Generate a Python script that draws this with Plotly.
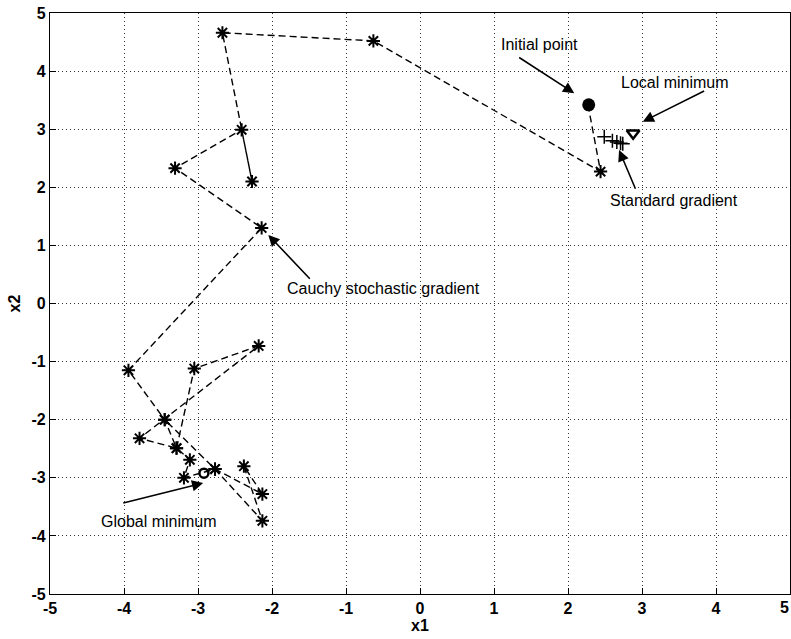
import plotly.graph_objects as go

# Cauchy stochastic gradient path (starts at initial point)
cauchy_x = [2.27, 2.44, -0.63, -2.67, -2.27, -2.41, -3.31, -2.14, -3.94, -3.45, -3.29, -3.05,
            -2.18, -3.79, -3.29, -3.11, -3.19, -2.77, -2.13, -2.38, -2.13, -2.77, -3.45]
cauchy_y = [3.42, 2.27, 4.52, 4.66, 2.10, 2.99, 2.33, 1.30, -1.15, -2.00, -2.49, -1.12,
            -0.73, -2.32, -2.49, -2.69, -3.00, -2.85, -3.28, -2.80, -3.74, -2.85, -2.00]

# Standard gradient iterates
std_x = [2.49, 2.60, 2.66, 2.71, 2.74]
std_y = [2.87, 2.80, 2.78, 2.76, 2.75]

init_pt = (2.28, 3.42)
local_min = (2.88, 2.93)
global_min = (-2.92, -2.92)

# annotations: text, text pos, arrow tail, arrow head
ann_text = ["Initial point", "Local minimum", "Standard gradient",
            "Cauchy stochastic gradient", "Global minimum"]
ann_pos = [(1.61, 4.45), (3.45, 3.80), (3.43, 1.78), (-0.49, 0.25), (-3.53, -3.76)]
ann_tail = [(1.32, 4.25), (3.86, 3.67), (2.92, 1.95), (-1.47, 0.40), (-4.03, -3.44)]
ann_head = [(2.085, 3.62), (3.01, 3.13), (2.69, 2.64), (-2.05, 1.18), (-2.93, -3.09)]

ticks = [-5, -4, -3, -2, -1, 0, 1, 2, 3, 4, 5]
FONT = "Liberation Sans, Arial"

fig = go.Figure()
fig.add_trace(go.Scatter(x=cauchy_x, y=cauchy_y, mode="lines",
                         line=dict(color="black", width=1.4, dash="7px,4px"),
                         hoverinfo="skip", showlegend=False))
fig.add_trace(go.Scatter(x=cauchy_x[1:], y=cauchy_y[1:], mode="markers",
                         marker=dict(symbol="asterisk-open", size=11, color="black",
                                     line=dict(color="black", width=2)),
                         showlegend=False))
fig.add_trace(go.Scatter(x=std_x, y=std_y, mode="markers",
                         marker=dict(symbol="cross-thin-open", size=10, color="black",
                                     line=dict(color="black", width=1.5)),
                         showlegend=False))
fig.add_trace(go.Scatter(x=[init_pt[0]], y=[init_pt[1]], mode="markers",
                         marker=dict(symbol="circle", size=13, color="black"),
                         showlegend=False))
fig.add_trace(go.Scatter(x=[local_min[0]], y=[local_min[1]], mode="markers",
                         marker=dict(symbol="triangle-down-open", size=11, color="black",
                                     line=dict(color="black", width=2.5)),
                         showlegend=False))
fig.add_trace(go.Scatter(x=[global_min[0]], y=[global_min[1]], mode="markers",
                         marker=dict(symbol="circle-open", size=9, color="black",
                                     line=dict(color="black", width=2.5)),
                         showlegend=False))

for t, p, tl, hd in zip(ann_text, ann_pos, ann_tail, ann_head):
    fig.add_annotation(x=hd[0], y=hd[1], ax=tl[0], ay=tl[1], axref="x", ayref="y",
                       xref="x", yref="y", text="", showarrow=True,
                       arrowhead=2, arrowsize=1.4, arrowwidth=1.6, arrowcolor="black")
    fig.add_annotation(x=p[0], y=p[1], xref="x", yref="y", text=t, showarrow=False,
                       font=dict(family=FONT, size=16, color="black"))

# right-most x tick label sits at the window edge
fig.add_annotation(x=5, y=0, xref="x", yref="paper", text="<b>5</b>", showarrow=False,
                   yanchor="top", xanchor="right", yshift=-3, xshift=1,
                   font=dict(family=FONT, size=16, color="black"))

axis_common = dict(range=[-5, 5], showgrid=True, gridcolor="#333", griddash="1px,3px",
                   gridwidth=1, zeroline=False, showline=True, linecolor="black",
                   linewidth=1.2, mirror=True, ticks="inside", ticklen=6, tickcolor="black",
                   tickfont=dict(family=FONT, size=16, color="black"))

fig.update_xaxes(**axis_common, tickvals=ticks[:-1],
                 ticktext=["<b>%d</b>" % v for v in ticks[:-1]],
                 title=dict(text="<b>x1</b>", standoff=0,
                            font=dict(family=FONT, size=16, color="black")))
fig.update_yaxes(**axis_common, tickvals=ticks,
                 ticktext=["<b>%d</b>" % v for v in ticks],
                 title=dict(text="<b>x2</b>", standoff=6,
                            font=dict(family=FONT, size=16, color="black")))

fig.update_layout(width=791, height=639, margin=dict(l=50, r=1, t=13, b=45),
                  plot_bgcolor="white", paper_bgcolor="white", showlegend=False)

fig.write_html("out.html")
